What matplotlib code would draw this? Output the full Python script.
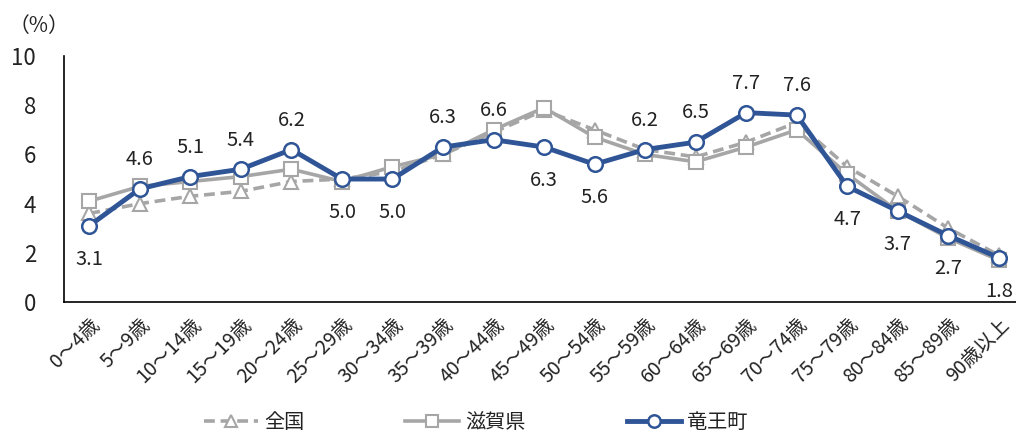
import matplotlib
matplotlib.use("Agg")
import matplotlib.pyplot as plt

plt.rcParams['font.family'] = ['Noto Sans CJK JP', 'DejaVu Sans']

categories = ["0～4歳", "5～9歳", "10～14歳", "15～19歳", "20～24歳", "25～29歳",
              "30～34歳", "35～39歳", "40～44歳", "45～49歳", "50～54歳", "55～59歳",
              "60～64歳", "65～69歳", "70～74歳", "75～79歳", "80～84歳", "85～89歳",
              "90歳以上"]
zenkoku = [3.6, 4.0, 4.3, 4.5, 4.9, 5.0, 5.3, 6.0, 6.9, 7.8, 7.0, 6.2, 5.9, 6.5, 7.3, 5.5, 4.3, 3.0, 1.9]
shiga = [4.1, 4.7, 4.9, 5.1, 5.4, 4.9, 5.5, 6.0, 7.0, 7.9, 6.7, 6.0, 5.7, 6.3, 7.0, 5.2, 3.7, 2.6, 1.7]
ryuo = [3.1, 4.6, 5.1, 5.4, 6.2, 5.0, 5.0, 6.3, 6.6, 6.3, 5.6, 6.2, 6.5, 7.7, 7.6, 4.7, 3.7, 2.7, 1.8]
label_above = [False, True, True, True, True, False, False, True, True, False, False, True, True,
               True, True, False, False, False, False]
names = ["全国", "滋賀県", "竜王町"]

blue = "#2F5597"
gray = "#A6A6A6"
txt = "#222222"

fig = plt.figure(figsize=(10.16, 4.33), dpi=100)
ax = fig.add_axes([0.063, 0.3025, 0.945, 0.568])

x = list(range(len(categories)))
ax.plot(x, zenkoku, color=gray, lw=2.6, ls=(0, (3, 1.6)), marker='^', ms=10,
        mfc='white', mec=gray, mew=1.5, label=names[0], zorder=2)
ax.plot(x, shiga, color=gray, lw=2.6, marker='s', ms=10,
        mfc='white', mec=gray, mew=1.5, label=names[1], zorder=3)
ax.plot(x, ryuo, color=blue, lw=3.5, marker='o', ms=10.5,
        mfc='white', mec=blue, mew=1.8, label=names[2], zorder=4)

for xi, v, up in zip(x, ryuo, label_above):
    ax.annotate(f"{v:.1f}", (xi, v), xytext=(0, 21 if up else -24),
                textcoords='offset points', ha='center', va='center',
                fontsize=14.5, color=txt)

ax.set_xlim(-0.5, len(categories) - 0.5)
ax.set_ylim(0, 10)
ax.set_yticks([0, 2, 4, 6, 8, 10])
ax.set_xticks(x)
ax.set_xticklabels(categories, rotation=45, ha='right', rotation_mode='anchor')
ax.tick_params(axis='both', length=0, colors=txt)
ax.tick_params(axis='x', pad=9, labelsize=14)
ax.tick_params(axis='y', pad=20, labelsize=16)
for s in ['top', 'right']:
    ax.spines[s].set_visible(False)
for s in ['left', 'bottom']:
    ax.spines[s].set_color('black')
    ax.spines[s].set_linewidth(1.2)

fig.text(0.008, 0.94, "（%）", fontsize=15, ha='left', va='center', color=txt)

leg = fig.legend(loc='center', bbox_to_anchor=(0.468, 0.025), ncol=3, frameon=False,
                 fontsize=14.5, handlelength=2.7, columnspacing=5.0, handletextpad=0.3,
                 markerscale=0.85)
for t in leg.get_texts():
    t.set_color(txt)

fig.savefig("out.png", dpi=100)
